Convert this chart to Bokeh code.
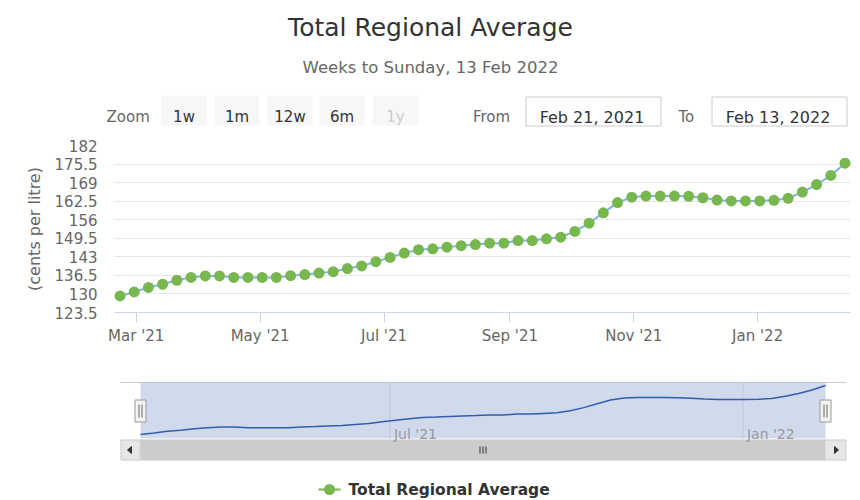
import numpy as np
import pandas as pd
from bokeh.plotting import figure
from bokeh.layouts import column
from bokeh.models import Range1d, FixedTicker
from bokeh.core.properties import value
from bokeh.embed import file_html
from bokeh.resources import INLINE

# ---------------- data ----------------
title_text = "Total Regional Average"
subtitle_text = "Weeks to Sunday, 13 Feb 2022"
y_label = "(cents per litre)"
series_name = "Total Regional Average"

week_dates = pd.date_range("2021-02-21", "2022-02-13", freq="W-SUN")
prices = [129.3, 130.7, 132.3, 133.4, 134.8, 135.8, 136.3, 136.3, 135.8, 135.8,
          135.8, 135.8, 136.4, 136.8, 137.3, 137.8, 138.9, 139.8, 141.3, 142.8,
          144.3, 145.5, 145.8, 146.4, 146.9, 147.3, 147.8, 147.8, 148.7, 148.7,
          149.3, 149.9, 151.9, 154.8, 158.4, 162.0, 163.9, 164.3, 164.3, 164.3,
          164.2, 163.7, 162.9, 162.6, 162.6, 162.6, 162.8, 163.5, 165.7, 168.3,
          171.5, 175.8]

y_ticks = [123.5, 130, 136.5, 143, 149.5, 156, 162.5, 169, 175.5, 182]
y_tick_labels = ["123.5", "130", "136.5", "143", "149.5", "156", "162.5", "169", "175.5", "182"]
x_tick_dates = ["2021-03-01", "2021-05-01", "2021-07-01", "2021-09-01", "2021-11-01", "2022-01-01"]
x_tick_labels = ["Mar '21", "May '21", "Jul '21", "Sep '21", "Nov '21", "Jan '22"]
nav_tick_dates = ["2021-07-01", "2022-01-01"]
nav_tick_labels = ["Jul '21", "Jan '22"]
zoom_buttons = ["1w", "1m", "12w", "6m", "1y"]
range_from = "Feb 21, 2021"
range_to = "Feb 13, 2022"

# ---------------- helpers ----------------
FONT = "DejaVu Sans"
W = 860
FL, FR = 114, 850          # common frame edges (px) for all stacked figures


def to_ms(d):
    return pd.to_datetime(d).values.astype("datetime64[ms]").astype("int64").astype(float)


dates_ms = to_ms(week_dates)
xt_ms = to_ms(x_tick_dates)
nt_ms = to_ms(nav_tick_dates)
d0, d1 = dates_ms[0], dates_ms[-1]


def pixel_fig(h, y0):
    p = figure(width=W, height=h, x_range=Range1d(FL, FR), y_range=Range1d(y0 + h, y0),
               x_axis_location=None, y_axis_location=None, toolbar_location=None,
               output_backend="svg", min_border_left=FL, min_border_right=W - FR,
               min_border_top=0, min_border_bottom=0, outline_line_color=None)
    p.grid.visible = False
    p.background_fill_color = "white"
    p.border_fill_color = "white"
    return p


def ov(r):
    r.level = "overlay"
    return r


def txt(p, x, y, s, size, color, align="left", style="normal", baseline="alphabetic", **kw):
    return ov(p.text(x=[x], y=[y], text=[s], text_font=value(FONT), text_font_size=size,
                     text_color=color, text_align=align, text_baseline=baseline,
                     text_font_style=style, **kw))


# ---------------- header ----------------
head = pixel_fig(130, 0)
txt(head, 430, 27, title_text, "25px", "#333333", align="center")
txt(head, 430, 67, subtitle_text, "16.5px", "#666666", align="center")
txt(head, 106, 116, "Zoom", "15px", "#666666")
btn_left = [161, 214, 267, 319, 372]
btn_right = [206, 259, 312, 364, 418]
ov(head.quad(left=btn_left, right=btn_right, top=95, bottom=125,
             fill_color="#f7f7f7", line_color=None))
for i, lab in enumerate(zoom_buttons):
    col = "#cccccc" if lab == "1y" else "#333333"
    txt(head, (btn_left[i] + btn_right[i]) / 2, 116, lab, "15px", col, align="center")
txt(head, 472.5, 116, "From", "15px", "#666666")
txt(head, 678, 116, "To", "15px", "#666666")
ov(head.quad(left=[525.5, 711.5], right=[660.5, 846.5], top=96.5, bottom=125.5,
             fill_color="white", line_color="#cccccc", line_width=1))
txt(head, 591.5, 117, range_from, "16px", "#333333", align="center")
txt(head, 777.5, 117, range_to, "16px", "#333333", align="center")

# ---------------- main chart ----------------
dl, dr = 119.5, 844.5      # first/last data point (px)
ppm = (dr - dl) / (d1 - d0)
main = figure(width=W, height=240, x_axis_type="datetime",
              x_range=Range1d(d0 - (dl - FL) / ppm, d1 + (FR - dr) / ppm),
              y_range=Range1d(y_ticks[0], y_ticks[-1]),
              toolbar_location=None, output_backend="svg",
              min_border_left=FL, min_border_right=W - FR,
              min_border_top=15, min_border_bottom=58, outline_line_color=None)
main.background_fill_color = "white"
main.border_fill_color = "white"

main.xgrid.grid_line_color = None
main.ygrid.grid_line_color = "#e6e6e6"
main.ygrid.ticker = FixedTicker(ticks=y_ticks)

xa = main.xaxis[0]
xa.ticker = FixedTicker(ticks=list(xt_ms))
xa.major_label_overrides = {float(t): l for t, l in zip(xt_ms, x_tick_labels)}
xa.axis_line_color = "#ccd6eb"
xa.major_tick_line_color = "#ccd6eb"
xa.major_tick_out = 10
xa.major_tick_in = 0
xa.minor_tick_line_color = None
xa.major_label_text_color = "#666666"
xa.major_label_text_font = FONT
xa.major_label_text_font_size = "15px"
xa.major_label_standoff = 4

ya = main.yaxis[0]
ya.ticker = FixedTicker(ticks=y_ticks)
ya.major_label_overrides = {float(t): l for t, l in zip(y_ticks, y_tick_labels)}
ya.axis_line_color = None
ya.major_tick_line_color = None
ya.minor_tick_line_color = None
ya.major_label_text_color = "#666666"
ya.major_label_text_font = FONT
ya.major_label_text_font_size = "15px"
ya.major_label_standoff = 11
ya.axis_label = y_label
ya.axis_label_text_font = FONT
ya.axis_label_text_font_size = "16px"
ya.axis_label_text_font_style = "normal"
ya.axis_label_text_color = "#666666"
ya.axis_label_standoff = 8

main.line(dates_ms, prices, line_color="#7cb5ec", line_width=2)
ov(main.scatter(dates_ms, prices, size=11, fill_color="#78b74e", line_color=None))

# ---------------- navigator ----------------
NY0, NH = 370, 95
nav = pixel_fig(NH, NY0)
nl, nr = 140, 825
nppm = (nr - nl) / (d1 - d0)
nav.extra_x_ranges = {"navx": Range1d(d0 - (nl - FL) / nppm, d1 + (FR - nr) / nppm)}
vmin, vmax = min(prices), max(prices)
yb, yt = 434, 385
nslope = (yb - yt) / (vmax - vmin)
nav.extra_y_ranges = {"navy": Range1d(vmin - (NY0 + NH - yb) / nslope, vmax + (yt - NY0) / nslope)}

# scrollbar
ov(nav.quad(left=120, right=845, top=439, bottom=460, fill_color="#f2f2f2", line_color=None))
ov(nav.quad(left=[d0], right=[d1], top=439, bottom=460, fill_color="#cccccc",
            line_color=None, x_range_name="navx"))
ov(nav.quad(left=[120.5, 824.5], right=[139.5, 845.5], top=439.5, bottom=459.5,
            fill_color="#e6e6e6", line_color="#cccccc"))
ov(nav.patch([127, 131, 131], [449.5, 446, 453], color="#333333"))
ov(nav.patch([838, 834, 834], [449.5, 446, 453], color="#333333"))
ov(nav.segment(x0=[479.5, 482.5, 485.5], y0=446, x1=[479.5, 482.5, 485.5], y1=453,
               line_color="#333333", line_width=1))

# navigator area
ov(nav.segment(x0=120, y0=382, x1=846, y1=382, line_color="#cccccc", line_width=1))
ov(nav.segment(x0=list(nt_ms), y0=382, x1=list(nt_ms), y1=438, line_color="#e6e6e6",
               line_width=1, x_range_name="navx"))
ov(nav.quad(left=[d0], right=[d1], top=382, bottom=438, fill_color="#6685c2",
            fill_alpha=0.3, line_color=None, x_range_name="navx"))
ov(nav.line(dates_ms, prices, line_color="#335cad", line_width=1.5,
            x_range_name="navx", y_range_name="navy"))
for t, lab in zip(nt_ms, nav_tick_labels):
    ov(nav.text(x=[t], y=[433], text=[lab], text_font=value(FONT), text_font_size="14px",
                text_color="#999999", text_align="left", text_baseline="alphabetic",
                x_offset=4, x_range_name="navx"))

# handles
ov(nav.quad(left=[134.5, 819.5], right=[145.5, 830.5], top=399.5, bottom=421.5,
            fill_color="#f2f2f2", line_color="#999999"))
ov(nav.segment(x0=[138.5, 141.5, 823.5, 826.5], y0=404, x1=[138.5, 141.5, 823.5, 826.5], y1=417,
               line_color="#666666", line_width=1))

# ---------------- legend ----------------
leg = pixel_fig(35, 465)
ov(leg.segment(x0=318, y0=489, x1=340, y1=489, line_color="#78b74e", line_width=2))
ov(leg.scatter([329], [489], size=11, fill_color="#78b74e", line_color=None))
txt(leg, 348, 489, series_name, "15.5px", "#333333", style="bold", baseline="middle")

layout = column(head, main, nav, leg, spacing=0)
open("out.html", "w").write(file_html(layout, INLINE))
